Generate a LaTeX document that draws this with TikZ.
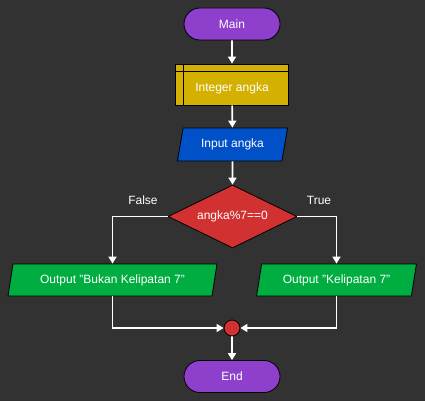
\documentclass[tikz,border=0pt]{standalone}
\usepackage{fontspec}
\setmainfont{Liberation Sans}
\usetikzlibrary{shapes.geometric,shapes.misc,arrows.meta}
\definecolor{bg}{HTML}{323232}
\definecolor{term}{HTML}{8E3FCB}
\definecolor{decl}{HTML}{D4B000}
\definecolor{inp}{HTML}{0050C8}
\definecolor{cond}{HTML}{D13131}
\definecolor{outp}{HTML}{00AD41}
\tikzset{
  base/.style={draw=black, line width=0.8pt, text=white, font=\fontsize{12}{14}\selectfont, inner sep=0pt},
  term/.style={base, rounded rectangle, fill=term, minimum width=96, minimum height=32},
  declbox/.style={base, rectangle, fill=decl, minimum width=113, minimum height=41},
  para/.style={base, trapezium, trapezium left angle=72, trapezium right angle=108, trapezium stretches=true, minimum height=33},
  dia/.style={base, diamond, aspect=2.05, fill=cond, minimum width=129, minimum height=63},
  conn/.style={draw=black, line width=0.8pt, circle, fill=cond, minimum size=16, inner sep=0pt},
  arr/.style={draw=white, line width=1.6pt, -{Triangle[width=8pt,length=7pt]}},
  lbl/.style={text=white, font=\fontsize{12}{14}\selectfont}
}
\begin{document}
\begin{tikzpicture}[x=1pt,y=-1pt]
\useasboundingbox[fill=bg] (0,0) rectangle (425,401);
\node[term] (main) at (232,24) {Main};
\node[declbox, label={[lbl, yshift=-4]center:Integer angka}] (int) at (232,84.5) {};
\draw[line width=0.8pt] ([yshift=-8]int.north west) -- ([yshift=-8]int.north east);
\draw[line width=0.8pt] ([xshift=8]int.north west) -- ([xshift=8]int.south west);
\node[para, fill=inp, minimum width=111] (in) at (232.5,144.5) {Input angka};
\node[dia] (d) at (232.5,216.5) {angka\%7==0};
\node[lbl] (f) at (143,200) {False};
\node[lbl] (t) at (319,200) {True};
\node[para, fill=outp, minimum width=209, minimum height=32] (lo) at (112.5,280) {Output "Bukan Kelipatan 7"};
\node[para, fill=outp, minimum width=160, minimum height=32] (ro) at (336.5,280) {Output "Kelipatan 7"};
\node[conn] (c) at (232,328) {};
\node[term] (end) at (232,376.5) {End};
\draw[arr] (main) -- (int);
\draw[arr] (int) -- (in);
\draw[arr] (in) -- (d);
\draw[arr] (d.west) -| (lo.north);
\draw[arr] (d.east) -| (ro.north);
\draw[arr] (lo.south) |- (c.west);
\draw[arr] (ro.south) |- (c.east);
\draw[arr] (c) -- (end);
\end{tikzpicture}
\end{document}
